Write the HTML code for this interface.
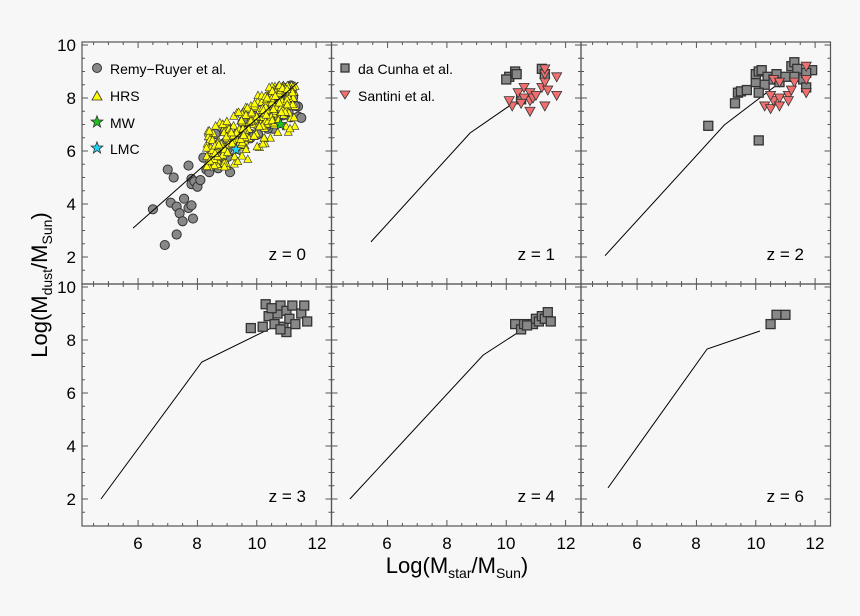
<!DOCTYPE html>
<html><head><meta charset="utf-8"><style>
html,body{margin:0;padding:0;background:#f7f7f7;}
svg{display:block;font-family:"Liberation Sans",sans-serif;}
</style></head><body>
<svg id="s" width="860" height="616" viewBox="0 0 860 616" xmlns="http://www.w3.org/2000/svg">
<rect width="860" height="616" fill="#f7f7f7"/>
<g id="g"></g>
<g font-size="17" fill="#000" text-anchor="end">
<text x="76" y="51">10</text><text x="76" y="104">8</text><text x="76" y="157">6</text><text x="76" y="210">4</text><text x="76" y="263">2</text>
<text x="76" y="293">10</text><text x="76" y="346">8</text><text x="76" y="399">6</text><text x="76" y="452">4</text><text x="76" y="505">2</text>
</g>
<g font-size="17" fill="#000" text-anchor="middle">
<text x="138" y="549">6</text><text x="197" y="549">8</text><text x="257" y="549">10</text><text x="317" y="549">12</text>
<text x="387" y="549">6</text><text x="447" y="549">8</text><text x="506" y="549">10</text><text x="566" y="549">12</text>
<text x="637" y="549">6</text><text x="696" y="549">8</text><text x="756" y="549">10</text><text x="815" y="549">12</text>
</g>
<g font-size="17" fill="#000" text-anchor="end">
<text x="306" y="260">z = 0</text><text x="555" y="260">z = 1</text><text x="804" y="260">z = 2</text>
<text x="306" y="502">z = 3</text><text x="555" y="502">z = 4</text><text x="804" y="502">z = 6</text>
</g>
<g font-size="14" fill="#000">
<text x="110" y="74">Remy−Ruyer et al.</text>
<text x="110" y="101">HRS</text>
<text x="110" y="128">MW</text>
<text x="110" y="154">LMC</text>
<text x="358" y="74">da Cunha et al.</text>
<text x="358" y="101">Santini et al.</text>
</g>
<text x="457" y="573" font-size="22" text-anchor="middle">Log(M<tspan font-size="14" dy="5">star</tspan><tspan dy="-5">/M</tspan><tspan font-size="14" dy="5">Sun</tspan><tspan dy="-5">)</tspan></text>
<text transform="translate(47,285) rotate(-90)" font-size="22" text-anchor="middle">Log(M<tspan font-size="14" dy="5">dust</tspan><tspan dy="-5">/M</tspan><tspan font-size="14" dy="5">Sun</tspan><tspan dy="-5">)</tspan></text>
</svg>
<script>
(function(){
var NS="http://www.w3.org/2000/svg",g=document.getElementById('g');
function el(t,a){var e=document.createElementNS(NS,t);for(var k in a)e.setAttribute(k,a[k]);g.appendChild(e);return e;}
var X0=[82,331.5,581],Y0=[42,284],W=249.5,H=242;
var top=[45,287];
function px(c,x){return X0[c]+(x-4.11)*29.67;}
function py(r,y){return top[r]+(10-y)*26.5;}
var seed=7;function rnd(){seed=(seed*16807)%2147483647;return (seed-1)/2147483646;}
for(var r=0;r<2;r++)for(var c=0;c<3;c++){
 var x0=X0[c],y0=Y0[r];
 for(var v=4.5;v<=12.5;v+=0.5){var xx=px(c,v);if(xx<x0+1||xx>x0+W-1)continue;var L=(v%2==0)?6:3;
  el('line',{x1:xx,x2:xx,y1:y0+H,y2:y0+H-L,stroke:'#555','stroke-width':1});
  el('line',{x1:xx,x2:xx,y1:y0,y2:y0+L,stroke:'#555','stroke-width':1});}
 for(var v=1.5;v<=10;v+=0.5){var yy=py(r,v);if(yy<y0+1||yy>y0+H-1)continue;var L=(v%2==0)?6:3;
  el('line',{x1:x0,x2:x0+L,y1:yy,y2:yy,stroke:'#555','stroke-width':1});
  el('line',{x1:x0+W,x2:x0+W-L,y1:yy,y2:yy,stroke:'#555','stroke-width':1});}
 el('rect',{x:x0,y:y0,width:W,height:H,fill:'none',stroke:'#555','stroke-width':1.2});
}
function line(c,r,pts){el('polyline',{points:pts.map(function(p){return px(c,p[0])+','+py(r,p[1]);}).join(' '),fill:'none',stroke:'#000','stroke-width':1});}
function circ(c,r,x,y){el('circle',{cx:px(c,x),cy:py(r,y),r:4.6,fill:'#888',stroke:'#333','stroke-width':1});}
function sq(c,r,x,y){var a=px(c,x),b=py(r,y);el('rect',{x:a-4.5,y:b-4.5,width:9,height:9,fill:'#888',stroke:'#333','stroke-width':1.3});}
function tri(c,r,x,y){var a=px(c,x),b=py(r,y);el('polygon',{points:(a-4)+','+(b+3.5)+' '+(a+4)+','+(b+3.5)+' '+a+','+(b-4),fill:'#ffff00',stroke:'#333','stroke-width':0.6});}
function tdn(c,r,x,y){var a=px(c,x),b=py(r,y);el('polygon',{points:(a-5)+','+(b-4)+' '+(a+5)+','+(b-4)+' '+a+','+(b+5),fill:'#f07070',stroke:'#333','stroke-width':0.8});}
function star(x,y,col){var p=[];for(var i=0;i<10;i++){var R=i%2?2.6:6.2,an=-Math.PI/2+i*Math.PI/5;p.push((x+R*Math.cos(an))+','+(y+R*Math.sin(an)));}el('polygon',{points:p.join(' '),fill:col,stroke:'#333','stroke-width':0.8});}
var circs=[[6.5,3.8],[6.9,2.45],[7,5.3],[7.2,5],[7.1,4.05],[7.3,3.9],[7.3,2.85],[7.4,3.65],[7.5,3.35],[7.55,4.2],[7.7,3.85],[7.8,3.95],[7.85,3.45],[7.7,5.45],[7.8,4.95],[7.8,4.75],[7.9,4.85],[8.0,4.65],[8.1,4.9],[8.2,5.75],[8.3,5.3],[8.4,5.2],[8.5,5.5],[8.7,5.35],[9.1,5.2],[8.9,5.5],[9.4,6.2]];
for(var i=0;i<60;i++){var x=8.6+rnd()*2.8,y=0.72*x-0.2+(rnd()-0.45)*1.4;circs.push([x,y]);}
circs.push([11.4,7.3],[11.5,7.25],[11.3,7.7]);
circs.forEach(function(p){circ(0,0,p[0],p[1]);});
for(var i=0;i<300;i++){var x=8.3+rnd()*3.0,y=0.75*x-0.35+(rnd()-0.35)*1.5+(rnd()<0.25?-0.7:0);if(y>8.5)y=8.5-rnd()*0.3;if(y<5.4)y=5.4+rnd()*0.3;tri(0,0,x,y);}
line(0,0,[[5.83,3.09],[11.4,8.6]]);
star(px(0,10.8),py(0,7.0),'#20c020');star(px(0,9.3),py(0,6.05),'#20d0f0');
el('circle',{cx:97,cy:68,r:4.5,fill:'#888',stroke:'#333'});
el('polygon',{points:'92,100 102,100 97,91',fill:'#ffff00',stroke:'#333','stroke-width':0.8});
star(97,122,'#20c020');star(97,148,'#20d0f0');
el('rect',{x:341,y:64,width:8,height:8,fill:'#888',stroke:'#333','stroke-width':1.3});
el('polygon',{points:'340,91 350,91 345,99',fill:'#f07070',stroke:'#333','stroke-width':0.8});
line(1,0,[[5.44,2.57],[8.78,6.68],[10.1,7.7]]);
[[10.1,8.8],[10.3,9.0],[10.35,8.9],[10.0,8.7],[10.5,7.95],[11.2,9.1],[11.3,8.9]].forEach(function(p){sq(1,0,p[0],p[1]);});
[[10.2,7.7],[10.1,7.9],[10.4,8.2],[10.6,8.4],[10.8,8.2],[10.8,7.9],[10.8,7.5],[10.9,8.0],[11.0,8.1],[11.2,8.4],[11.3,8.6],[11.3,8.9],[11.3,9.1],[11.3,7.7],[11.4,8.3],[11.7,8.8],[11.7,8.1],[10.6,8.0],[10.5,7.8]].forEach(function(p){tdn(1,0,p[0],p[1]);});
line(2,0,[[4.92,2.05],[8.94,6.98],[11.15,8.87]]);
var s2=[[8.4,6.95],[10.1,6.4],[9.3,7.8],[9.4,8.2],[9.5,8.25],[9.7,8.3],[10.0,8.6],[10.0,8.9],[10.1,9.0],[10.2,9.05],[10.4,8.8],[10.3,8.5],[10.6,8.7],[10.7,8.9],[10.8,8.6],[11.2,9.2],[11.3,9.35],[11.4,9.1],[11.3,8.8],[11.6,8.7],[11.9,9.05],[11.7,8.95],[11.7,8.4],[11.0,8.8],[10.1,8.2]];
s2.forEach(function(p){sq(2,0,p[0],p[1]);});
[[10.3,7.7],[10.5,7.6],[10.6,7.9],[10.6,8.7],[10.8,8.6],[10.8,8.0],[10.8,7.7],[11.1,8.1],[11.1,7.9],[11.3,8.6],[11.2,8.3],[11.7,9.2],[11.7,8.7],[11.7,8.2],[10.5,8.1]].forEach(function(p){tdn(2,0,p[0],p[1]);});
line(0,1,[[4.75,2.0],[8.15,7.17],[10.7,8.57]]);
[[9.8,8.45],[10.2,8.5],[10.3,9.35],[10.4,8.9],[10.6,8.6],[10.7,9.0],[10.8,9.3],[10.9,8.5],[11.0,9.1],[11.0,8.3],[11.2,9.3],[11.1,8.8],[11.5,9.0],[11.6,9.3],[11.7,8.7],[11.3,8.6],[10.5,9.2],[10.8,8.4]].forEach(function(p){sq(0,1,p[0],p[1]);});
line(1,1,[[4.73,2.0],[9.22,7.43],[11.15,8.83]]);
[[10.3,8.6],[10.5,8.4],[10.6,8.6],[10.9,8.6],[11.0,8.8],[11.1,8.7],[11.2,8.9],[11.3,8.8],[11.4,9.05],[11.5,8.7],[10.7,8.55]].forEach(function(p){sq(1,1,p[0],p[1]);});
line(2,1,[[5.02,2.42],[8.36,7.66],[10.14,8.34]]);
[[10.5,8.6],[10.7,8.95],[11.0,8.95]].forEach(function(p){sq(2,1,p[0],p[1]);});
})();
</script>
</body></html>
